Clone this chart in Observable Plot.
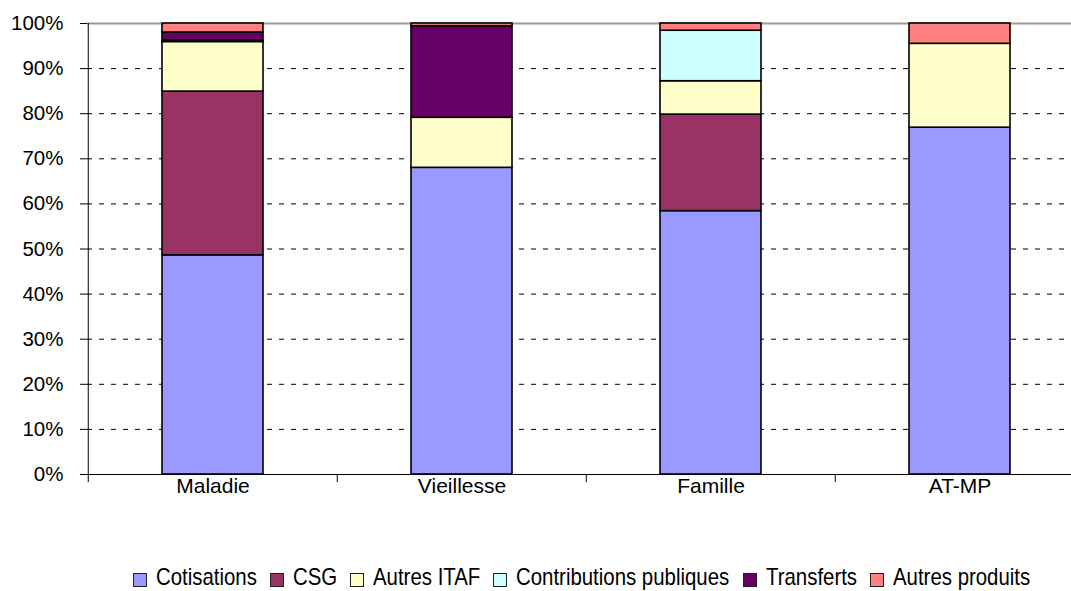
<!DOCTYPE html>
<html>
<head>
<meta charset="utf-8">
<script src="https://cdn.jsdelivr.net/npm/d3@7"></script>
<script src="https://cdn.jsdelivr.net/npm/@observablehq/plot@0.6"></script>
<style>
  html, body { margin: 0; padding: 0; background: #fff; }
  body { width: 1071px; height: 591px; overflow: hidden; position: relative; font-family: "Liberation Sans", Arial, sans-serif; }
  #legend { position: absolute; top: 565px; left: 133px; display: flex; align-items: flex-start; font-size: 24px; line-height: 24px; color: #000; white-space: nowrap; }
  .item { display: flex; align-items: flex-start; margin-right: 13px; }
  .sw { width: 12px; height: 12px; border: 1px solid #222; margin-top: 8px; margin-right: 9px; flex: none; }
  .txt { display: inline-block; transform-origin: 0 0; }
</style>
</head>
<body>
<div id="chart"></div>
<div id="legend"></div>
<script>
const categories = ["Maladie", "Vieillesse", "Famille", "AT-MP"];
const series = ["Cotisations", "CSG", "Autres ITAF", "Contributions publiques", "Transferts", "Autres produits"];
const cotisations    = [48.6, 68.0, 58.4, 76.9];
const csg            = [36.3, 0.0, 21.4, 0.0];
const autresItaf     = [11.0, 11.1, 7.4, 18.6];
const contributions  = [0.3, 0.0, 11.2, 0.0];
const transferts     = [1.8, 20.3, 0.0, 0.0];
const autresProduits = [2.0, 0.6, 1.6, 4.5];
const colors = ["#9999FF", "#993366", "#FFFFCC", "#CCFFFF", "#660066", "#FF8080"];
const yTicks = [0, 10, 20, 30, 40, 50, 60, 70, 80, 90, 100];
const gridTicks = [10, 20, 30, 40, 50, 60, 70, 80, 90];

const values = [cotisations, csg, autresItaf, contributions, transferts, autresProduits];
const data = [];
series.forEach((s, si) => categories.forEach((c, ci) => {
  if (values[si][ci] > 0) data.push({category: c, series: s, value: values[si][ci]});
}));

const W = 1071, H = 558;
const x0 = 87, x1 = 1085;
const step = (x1 - x0) / categories.length;

const chart = Plot.plot({
  width: W,
  height: H,
  marginTop: 23,
  marginBottom: 84,
  marginLeft: x0,
  marginRight: 0,
  style: {fontFamily: "'Liberation Sans', Arial, sans-serif", fontSize: "20px", color: "#000", background: "#fff"},
  x: {domain: categories, range: [x0, x1], paddingInner: 0.595, paddingOuter: 0.2975, label: null},
  y: {domain: [0, 100], label: null},
  color: {domain: series, range: colors},
  marks: [
    Plot.ruleY(gridTicks, {stroke: "#000", strokeWidth: 1, strokeDasharray: "5,7"}),
    Plot.ruleY([100], {stroke: "#999", strokeWidth: 2}),
    Plot.barY(data, {x: "category", y: "value", fill: "series", order: series, stroke: "#000", strokeWidth: 1.6}),
    Plot.ruleY([0], {stroke: "#000", strokeWidth: 1}),
    Plot.ruleX([categories[0]], {y1: 0, y2: 100, dx: -step / 2, stroke: "#000", strokeWidth: 1}),
    Plot.ruleX(categories, {y1: 0, y2: -1.8, dx: -step / 2, stroke: "#000", strokeWidth: 1}),
    Plot.axisY({ticks: yTicks, tickFormat: d => d + "%", tickSize: 7, tickPadding: 17, fontSize: 20.5, label: null}),
    Plot.axisX({tickSize: 0, tickPadding: 4, fontSize: 21, label: null})
  ]
});
document.getElementById("chart").appendChild(chart);

const legend = document.getElementById("legend");
const sx = 0.85;
series.forEach((s, i) => {
  const it = document.createElement("div");
  it.className = "item";
  const sw = document.createElement("div");
  sw.className = "sw";
  sw.style.background = colors[i];
  const t = document.createElement("span");
  t.className = "txt";
  t.textContent = s;
  it.appendChild(sw); it.appendChild(t);
  legend.appendChild(it);
  const w = t.offsetWidth;
  t.style.transform = `scaleX(${sx})`;
  t.style.marginRight = (-(1 - sx) * w) + "px";
});
</script>
</body>
</html>
